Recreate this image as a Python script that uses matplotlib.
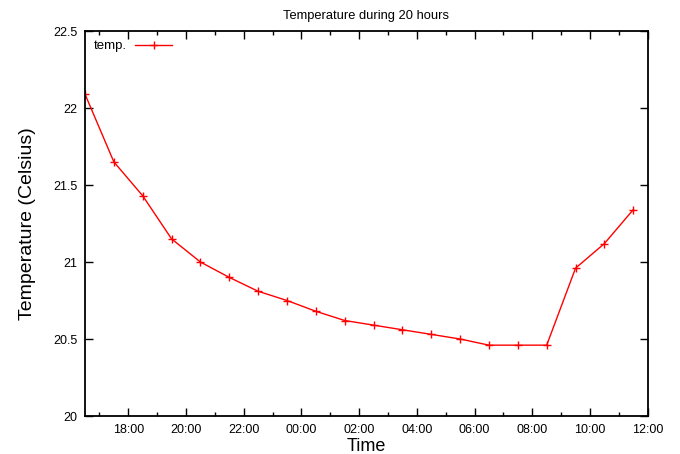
import datetime as dt
import matplotlib
matplotlib.use('Agg')
import matplotlib.pyplot as plt
import matplotlib.dates as mdates

# 측정 시각 (16:30 부터 1시간 간격, 20개)
start = dt.datetime(2000, 1, 1, 16, 30)
times = [start + dt.timedelta(hours=h) for h in range(20)]

# 온도 값
temps = [22.09, 21.65, 21.43, 21.15, 21.00, 20.90, 20.81, 20.75, 20.68, 20.62,
         20.59, 20.56, 20.53, 20.50, 20.46, 20.46, 20.46, 20.96, 21.12, 21.34]

y_ticks = [20, 20.5, 21, 21.5, 22, 22.5]
y_tick_labels = ['20', '20.5', '21', '21.5', '22', '22.5']

plt.rcParams['font.family'] = ['Liberation Sans', 'DejaVu Sans']

fig = plt.figure(figsize=(6.8, 4.54), dpi=100)
ax = fig.add_axes([0.125, 0.0837, 0.8275, 0.848])

ax.plot(times, temps, color='#ff0000', lw=1.0, marker='+', ms=6, mew=1.0,
        label='temp.')

ax.set_xlim(start, dt.datetime(2000, 1, 2, 12, 0))
ax.set_ylim(20, 22.5)
ax.set_yticks(y_ticks)
ax.set_yticklabels(y_tick_labels)

ax.xaxis.set_major_locator(mdates.HourLocator(byhour=range(0, 24, 2)))
ax.xaxis.set_minor_locator(mdates.HourLocator(byhour=range(1, 24, 2)))
ax.xaxis.set_major_formatter(mdates.DateFormatter('%H:%M'))

ax.tick_params(which='both', direction='in', top=True, right=True,
               labelsize=9, width=1.0, colors='black')
ax.tick_params(which='major', length=6)
ax.tick_params(which='minor', length=3)
ax.tick_params(axis='y', pad=5.5)
ax.tick_params(axis='x', pad=6)
for s in ax.spines.values():
    s.set_linewidth(1.3)

ax.set_title('Temperature during 20 hours', fontsize=9.3, pad=9)
ax.set_xlabel('Time', fontsize=13, labelpad=1)
ax.set_ylabel('Temperature (Celsius)', fontsize=14, labelpad=12)

ax.legend(loc='upper left', frameon=False, fontsize=9.5, markerfirst=False,
          handlelength=2.8, borderaxespad=0.3, handletextpad=0.6)

fig.savefig('out.png', dpi=100)
